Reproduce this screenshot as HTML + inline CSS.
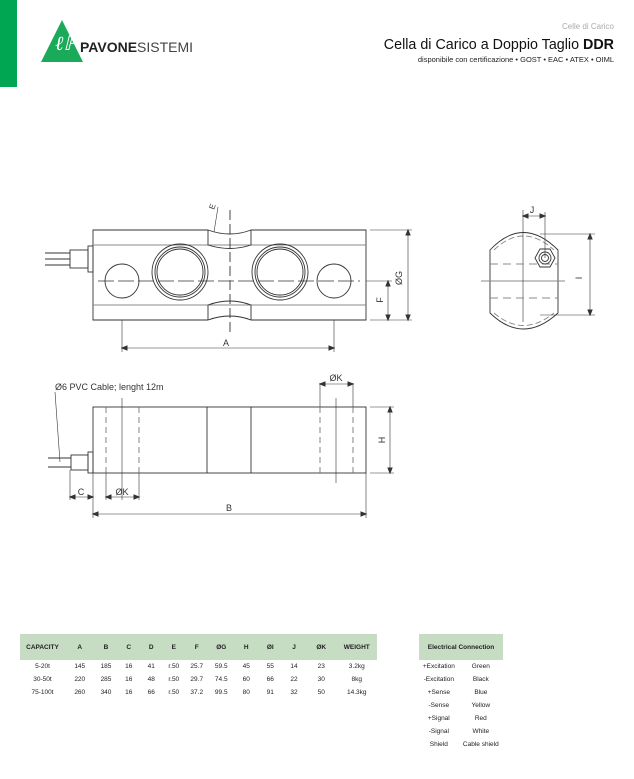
<!DOCTYPE html>
<html><head><meta charset="utf-8"><style>
body{margin:0;width:634px;height:779px;background:#fff;overflow:hidden;font-family:"Liberation Sans",sans-serif;position:relative}
.a{position:absolute;white-space:nowrap}
table{border-collapse:collapse;font-size:6.5px;color:#222}
td{padding:0}
</style></head><body>
<div class="a" style="left:0;top:0;width:17px;height:87px;background:#00a651"></div>
<svg class="a" style="left:0;top:0" width="634" height="779" viewBox="0 0 634 779" font-family="Liberation Sans, sans-serif">
<polygon points="62,20 83,62 41,62" fill="#1aaa5a"/>
<text x="55" y="50" font-family="Liberation Serif" font-size="20" fill="#fff" font-style="italic">ℓℙ</text>
<text x="80" y="52" font-size="14" font-weight="bold" fill="#222">PAVONE<tspan font-weight="normal" fill="#444">SISTEMI</tspan></text>
<text x="614" y="29" font-size="8" fill="#aaa" text-anchor="end">Celle di Carico</text>
<text x="614" y="49" font-size="14.3" fill="#111" text-anchor="end">Cella di Carico a Doppio Taglio <tspan font-weight="bold">DDR</tspan></text>
<text x="614" y="62" font-size="7.5" fill="#222" text-anchor="end">disponibile con certificazione • GOST • EAC • ATEX • OIML</text>
<g stroke="#333" fill="none" stroke-width="0.9">
<path d="M93,230 H208 Q230,238 251,230 H366 V320 H251 Q230,312 208,320 H93 Z"/>
<line x1="93" y1="245" x2="366" y2="245" stroke="#888"/>
<line x1="93" y1="305" x2="366" y2="305" stroke="#888"/>
<path d="M208,230 V245 Q230,252 251,245 V230" />
<path d="M208,320 V305 Q230,297 251,305 V320"/>
<line x1="230" y1="210" x2="230" y2="335" stroke-dasharray="10,4"/>
<line x1="98" y1="281" x2="360" y2="281" stroke-dasharray="16,4" stroke="#666"/>
<circle cx="122" cy="281" r="17"/><circle cx="334" cy="281" r="17"/>
<circle cx="180" cy="272" r="28"/><circle cx="180" cy="272" r="25"/><circle cx="180" cy="272" r="23"/>
<circle cx="280" cy="272" r="28"/><circle cx="280" cy="272" r="25"/><circle cx="280" cy="272" r="23"/>
<rect x="88" y="246" width="5" height="26"/><rect x="70" y="250" width="18" height="18"/>
<line x1="45" y1="253" x2="70" y2="253"/><line x1="45" y1="259" x2="70" y2="259"/><line x1="45" y1="265" x2="70" y2="265"/>
<line x1="122" y1="320" x2="122" y2="352" stroke-width="0.6"/><line x1="334" y1="320" x2="334" y2="352" stroke-width="0.6"/>
<line x1="122" y1="348" x2="334" y2="348" stroke-width="0.6"/>
<line x1="370" y1="230" x2="412" y2="230" stroke-width="0.6"/><line x1="370" y1="320" x2="412" y2="320" stroke-width="0.6"/>
<line x1="366" y1="281" x2="392" y2="281" stroke-width="0.6"/>
<line x1="408" y1="230" x2="408" y2="320" stroke-width="0.6"/><line x1="388" y1="281" x2="388" y2="320" stroke-width="0.6"/>
<line x1="218" y1="207" x2="214" y2="232" stroke-width="0.6"/>
<rect x="93" y="407" width="273" height="66"/>
<line x1="207" y1="407" x2="207" y2="473"/><line x1="251" y1="407" x2="251" y2="473"/>
<g stroke-dasharray="6,4" stroke="#777"><line x1="106" y1="407" x2="106" y2="473"/><line x1="139" y1="407" x2="139" y2="473"/><line x1="320" y1="407" x2="320" y2="473"/><line x1="353" y1="407" x2="353" y2="473"/></g>
<line x1="122" y1="398" x2="122" y2="500" stroke-width="0.6"/><line x1="336" y1="398" x2="336" y2="483" stroke-width="0.6"/>
<rect x="88" y="452" width="5" height="21"/><rect x="71" y="455" width="17" height="15"/>
<line x1="48" y1="458" x2="71" y2="458"/><line x1="48" y1="467" x2="71" y2="467"/>
<line x1="55" y1="392" x2="60" y2="462" stroke-width="0.6"/>
<g stroke-width="0.6">
<line x1="320" y1="383" x2="320" y2="407"/><line x1="353" y1="383" x2="353" y2="407"/><line x1="320" y1="384" x2="353" y2="384"/>
<line x1="370" y1="407" x2="394" y2="407"/><line x1="370" y1="473" x2="394" y2="473"/><line x1="390" y1="407" x2="390" y2="473"/>
<line x1="70" y1="470" x2="70" y2="500"/><line x1="93" y1="473" x2="93" y2="518"/><line x1="70" y1="497" x2="93" y2="497"/>
<line x1="106" y1="473" x2="106" y2="500"/><line x1="139" y1="473" x2="139" y2="500"/><line x1="106" y1="497" x2="139" y2="497"/>
<line x1="366" y1="473" x2="366" y2="518"/><line x1="93" y1="514" x2="366" y2="514"/>
</g>
<path d="M490,250 Q523,215 558,250 V313 Q523,345 490,313 Z"/>
<path d="M494,250 Q523,222 554,250 M494,313 Q523,338 554,313" stroke-dasharray="6,3" stroke="#888"/>
<line x1="481" y1="281" x2="565" y2="281" stroke="#888"/>
<line x1="523" y1="210" x2="523" y2="322" stroke-width="0.6"/>
<line x1="490" y1="264" x2="558" y2="264" stroke-dasharray="8,5" stroke="#888"/>
<line x1="490" y1="298" x2="558" y2="298" stroke-dasharray="8,5" stroke="#888"/>
<polygon points="535,258 540,249 550,249 555,258 550,267 540,267"/><circle cx="545" cy="258" r="6"/><circle cx="545" cy="258" r="3.5"/>
<line x1="545" y1="212" x2="545" y2="258" stroke-width="0.6"/><line x1="523" y1="216" x2="545" y2="216" stroke-width="0.6"/>
<line x1="540" y1="234" x2="595" y2="234" stroke-width="0.6"/><line x1="540" y1="315" x2="595" y2="315" stroke-width="0.6"/>
<line x1="590" y1="234" x2="590" y2="315" stroke-width="0.6"/>
</g>
<g font-size="9" fill="#333">
<text x="226" y="346" text-anchor="middle">A</text>
<text x="402" y="278" transform="rotate(-90 402 278)" text-anchor="middle">ØG</text>
<text x="383" y="300" transform="rotate(-90 383 300)" text-anchor="middle">F</text>
<text x="214" y="210" transform="rotate(-70 214 210)" font-size="8">E</text>
<text x="532" y="213" text-anchor="middle">J</text>
<text x="582" y="278" transform="rotate(-90 582 278)" text-anchor="middle">I</text>
<text x="55" y="390">Ø6 PVC Cable; lenght 12m</text>
<text x="336" y="381" text-anchor="middle">ØK</text>
<text x="385" y="440" transform="rotate(-90 385 440)" text-anchor="middle">H</text>
<text x="81" y="495" text-anchor="middle">C</text>
<text x="122" y="495" text-anchor="middle">ØK</text>
<text x="229" y="511" text-anchor="middle">B</text>
</g>
<g stroke="#333" fill="#333"><path d="M122,348 l5,-2 v4z M334,348 l-5,-2 v4z M408,230 l-2,5 h4z M408,320 l-2,-5 h4z M388,281 l-2,5 h4z M388,320 l-2,-5 h4z M320,384 l5,-2 v4z M353,384 l-5,-2 v4z M390,407 l-2,5 h4z M390,473 l-2,-5 h4z M70,497 l5,-2 v4z M93,497 l-5,-2 v4z M106,497 l5,-2 v4z M139,497 l-5,-2 v4z M93,514 l5,-2 v4z M366,514 l-5,-2 v4z M523,216 l5,-2 v4z M545,216 l-5,-2 v4z M590,234 l-2,5 h4z M590,315 l-2,-5 h4z"/></g>
</svg>
<table class="a" style="left:20px;top:634px;width:357px;text-align:center;table-layout:fixed">
<colgroup><col style="width:45px"><col style="width:29.5px"><col style="width:23px"><col style="width:22.5px"><col style="width:22.5px"><col style="width:22.5px"><col style="width:23.5px"><col style="width:25.5px"><col style="width:24.5px"><col style="width:23.5px"><col style="width:24px"><col style="width:30.5px"><col style="width:40.5px"></colgroup>
<tr style="background:#c6dcc3;height:26px;font-weight:bold"><td>CAPACITY</td><td>A</td><td>B</td><td>C</td><td>D</td><td>E</td><td>F</td><td>ØG</td><td>H</td><td>ØI</td><td>J</td><td>ØK</td><td>WEIGHT</td></tr>
<tr style="height:13px"><td>5-20t</td><td>145</td><td>185</td><td>16</td><td>41</td><td>r.50</td><td>25.7</td><td>59.5</td><td>45</td><td>55</td><td>14</td><td>23</td><td>3.2kg</td></tr>
<tr style="height:13px"><td>30-50t</td><td>220</td><td>285</td><td>16</td><td>48</td><td>r.50</td><td>29.7</td><td>74.5</td><td>60</td><td>66</td><td>22</td><td>30</td><td>8kg</td></tr>
<tr style="height:13px"><td>75-100t</td><td>260</td><td>340</td><td>16</td><td>66</td><td>r.50</td><td>37.2</td><td>99.5</td><td>80</td><td>91</td><td>32</td><td>50</td><td>14.3kg</td></tr>
</table>
<table class="a" style="left:419px;top:634px;width:84px;text-align:center">
<tr style="background:#c6dcc3;height:26px;font-weight:bold"><td colspan="2">Electrical Connection</td></tr>
<tr style="height:13px"><td>+Excitation</td><td>Green</td></tr>
<tr style="height:13px"><td>-Excitation</td><td>Black</td></tr>
<tr style="height:13px"><td>+Sense</td><td>Blue</td></tr>
<tr style="height:13px"><td>-Sense</td><td>Yellow</td></tr>
<tr style="height:13px"><td>+Signal</td><td>Red</td></tr>
<tr style="height:13px"><td>-Signal</td><td>White</td></tr>
<tr style="height:13px"><td>Shield</td><td>Cable shield</td></tr>
</table>
</body></html>
